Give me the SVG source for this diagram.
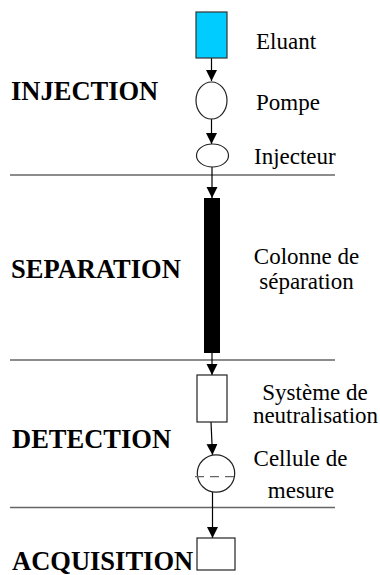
<svg xmlns="http://www.w3.org/2000/svg" width="380" height="575" viewBox="0 0 380 575">
<defs>
<style>
.sec{font-family:'Liberation Serif','Times New Roman',serif;font-weight:bold;font-size:26.5px;fill:#000}
.lbl{font-family:'Liberation Serif','Times New Roman',serif;font-size:23px;fill:#000}
.sep{stroke:#666;stroke-width:1.4;fill:none}
.conn{stroke:#000;stroke-width:1.2;fill:none;marker-end:url(#ah)}
.shape{stroke:#222;stroke-width:1.2;fill:#fff}
</style>
<marker id="ah" markerUnits="userSpaceOnUse" markerWidth="12" markerHeight="12" viewBox="0 0 12 12" refX="11" refY="6" orient="auto">
<path d="M0,0.5 L11,6 L0,11.5 Z" fill="#000"/>
</marker>
</defs>
<rect width="380" height="575" fill="#fff"/>
<g id="separators">
<line class="sep" x1="10" y1="175" x2="335" y2="175"/>
<line class="sep" x1="10" y1="360" x2="335" y2="360"/>
<line class="sep" x1="10" y1="507.5" x2="335" y2="507.5"/>
</g>
<g id="sections">
<text class="sec" x="11" y="100">INJECTION</text>
<text class="sec" x="11" y="278">SEPARATION</text>
<text class="sec" x="12" y="448">DETECTION</text>
<text class="sec" x="12" y="569.5">ACQUISITION</text>
</g>
<g id="connectors">
<line class="conn" x1="211.5" y1="58" x2="211.5" y2="81"/>
<line class="conn" x1="211.5" y1="119" x2="211.5" y2="144"/>
<line class="conn" x1="212" y1="167" x2="212" y2="198"/>
<line class="conn" x1="212" y1="353" x2="212" y2="375"/>
<line class="conn" x1="211" y1="422" x2="212.5" y2="455"/>
<line class="conn" x1="212.5" y1="492" x2="212.5" y2="538"/>
</g>
<g id="eluant">
<rect x="196" y="12" width="31" height="46" fill="#00CCFF" stroke="#333" stroke-width="1.2"/>
<text class="lbl" x="256" y="48.5">Eluant</text>
</g>
<g id="pompe">
<ellipse class="shape" cx="211.5" cy="100.5" rx="15.5" ry="18.5"/>
<text class="lbl" x="256" y="110">Pompe</text>
</g>
<g id="injecteur">
<ellipse class="shape" cx="212.5" cy="155.5" rx="16" ry="11.5"/>
<text class="lbl" x="254" y="164">Injecteur</text>
</g>
<g id="colonne">
<rect x="204" y="198" width="16" height="155" fill="#000"/>
<text class="lbl" x="306.5" y="264" text-anchor="middle">Colonne de</text>
<text class="lbl" x="306.5" y="289" text-anchor="middle">séparation</text>
</g>
<g id="neutralisation">
<rect class="shape" x="197" y="375" width="30" height="47"/>
<text class="lbl" x="315" y="400" text-anchor="middle">Système de</text>
<text class="lbl" x="315.5" y="423" text-anchor="middle">neutralisation</text>
</g>
<g id="cellule">
<circle class="shape" cx="216" cy="473.5" r="18.7"/>
<line x1="195" y1="476.7" x2="236" y2="476.7" stroke="#666" stroke-width="1.2" stroke-dasharray="9 6"/>
<text class="lbl" x="300.5" y="466" text-anchor="middle">Cellule de</text>
<text class="lbl" x="301" y="498" text-anchor="middle">mesure</text>
</g>
<g id="acquisition">
<rect class="shape" x="197" y="538" width="38" height="32"/>
</g>
</svg>
